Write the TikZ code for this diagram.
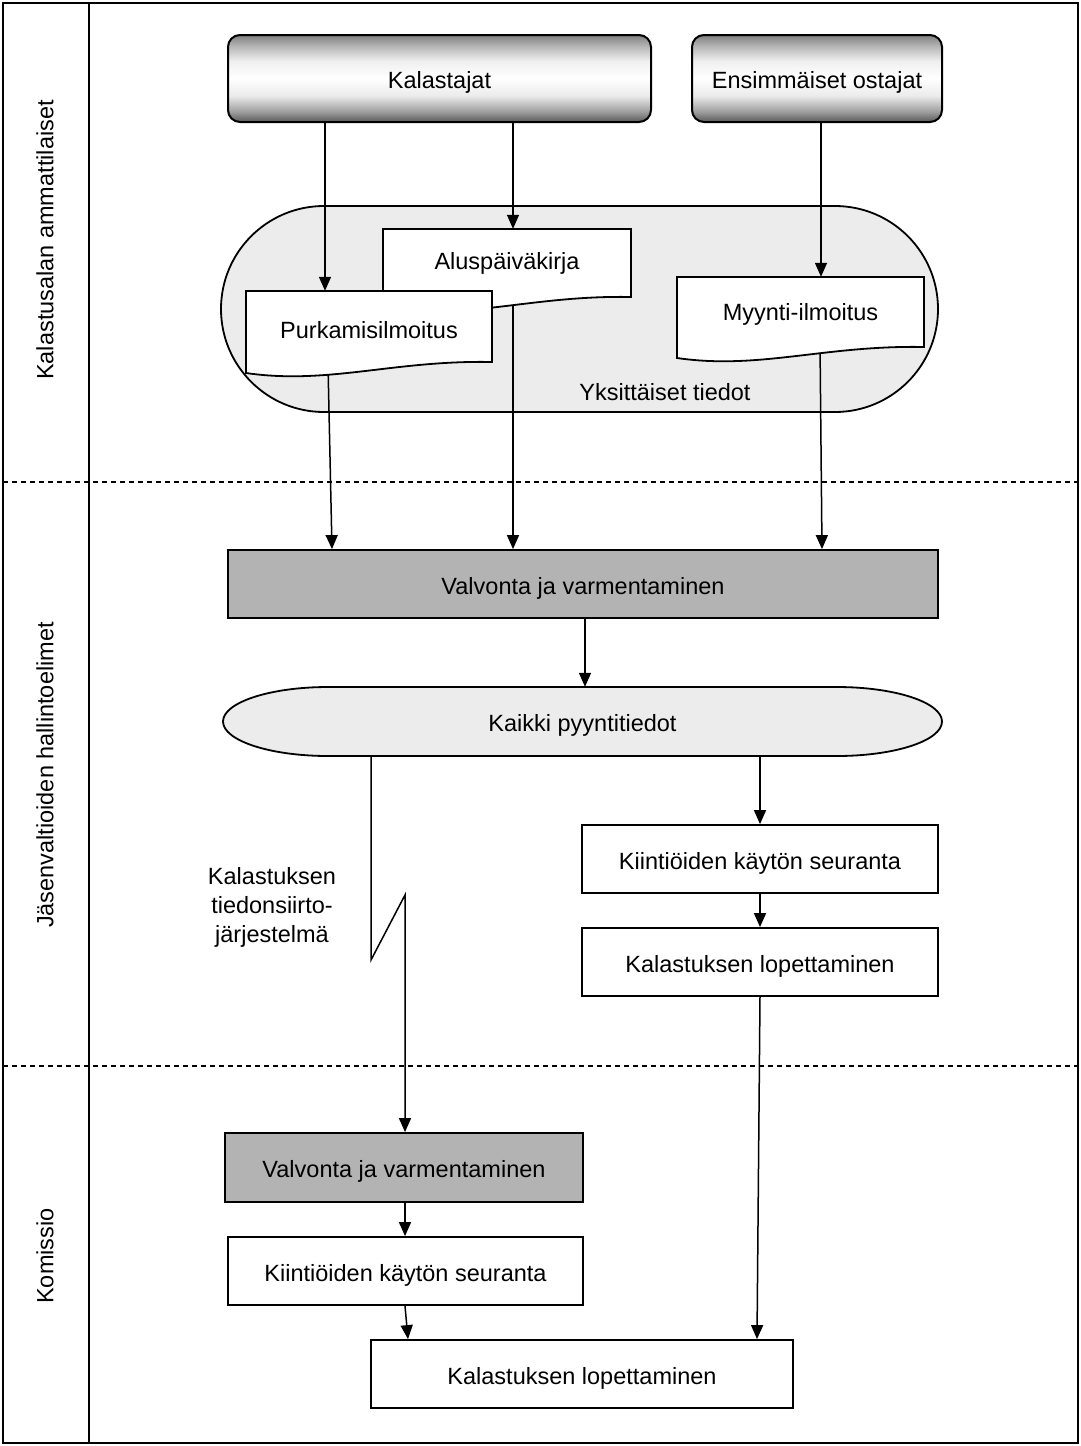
\documentclass[tikz,border=0pt]{standalone}
\usepackage{fontspec}
\setmainfont{Liberation Sans}
\usetikzlibrary{arrows.meta,calc}
\pgfdeclarelayer{bg}
\pgfdeclarelayer{mid}
\pgfsetlayers{bg,mid,main}
\pgfdeclareverticalshading{topshade}{100bp}{color(0bp)=(black!65); color(25bp)=(black!65); color(31bp)=(black!38); color(40bp)=(black!8); color(50bp)=(white); color(60bp)=(black!6); color(69bp)=(black!30); color(75bp)=(black!50); color(100bp)=(black!50)}
\definecolor{boxgray}{HTML}{B3B3B3}
\definecolor{areagray}{HTML}{ECECEC}
\newcommand\fsz{\fontsize{23.5pt}{29pt}\selectfont}
\begin{document}
\begin{tikzpicture}[x=1pt,y=-1pt,
  every node/.style={font=\fsz, inner sep=0pt},
  lbl/.style={text height=20pt, text depth=0pt},
  topbox/.style={lbl, draw, line width=2pt, rounded corners=12pt, shading=topshade},
  box/.style={lbl, draw, line width=1.8pt, minimum height=68pt},
  graybox/.style={box, fill=boxgray},
  docline/.style={draw, fill=white, line width=1.8pt},
  arr/.style={-{Triangle[length=14pt,width=12pt]}, line width=1.5pt},
  frame/.style={line width=2.5pt},
  sep/.style={line width=2pt, dash pattern=on 5pt off 4pt}]
\useasboundingbox (0,0) rectangle (1081,1446);

% helper coordinates (x positions of connectors)
\coordinate (c325) at (325,0);
\coordinate (c328) at (328,0);
\coordinate (c332) at (332,0);
\coordinate (c513) at (513,0);
\coordinate (c820) at (820,0);
\coordinate (c821) at (821,0);
\coordinate (c822) at (822,0);
\coordinate (c585) at (585,0);
\coordinate (c405) at (405,0);
\coordinate (c408) at (408,0);
\coordinate (c757) at (757,0);
\coordinate (zza) at (371,960);
\coordinate (zzb) at (405,895);

% frame
\draw[frame] (3,3) rectangle (1078,1443);
\draw[frame] (89,3) -- (89,1443);
\draw[sep] (3,482) -- (1078,482);
\draw[sep] (3,1066) -- (1078,1066);

% side labels
\node[rotate=90] (s1) at (45,240) {Kalastusalan ammattilaiset};
\node[rotate=90] (s2) at (45,775) {Jäsenvaltioiden hallintoelimet};
\node[rotate=90] (s3) at (45,1256) {Komissio};

% top actors
\node[topbox, minimum width=423pt, minimum height=87pt] (kal) at (439.5,78.5) {Kalastajat};
\node[topbox, minimum width=250pt, minimum height=87pt] (ens) at (817,78.5) {Ensimmäiset ostajat};

% documents (text nodes)
\node[lbl, minimum width=248pt, minimum height=60pt] (alus) at (507,259) {Aluspäiväkirja};
\node[lbl, minimum width=246pt, minimum height=74pt] (purk) at (369,328) {Purkamisilmoitus};
\node[lbl, minimum width=247pt, minimum height=66pt] (myy) at (800.5,310) {Myynti-ilmoitus};
\node[lbl] (yksl) at (665,390) {Yksittäiset tiedot};

% process boxes
\node[graybox, minimum width=710pt] (val1) at (583,584) {Valvonta ja varmentaminen};
\node[lbl, minimum width=719pt, minimum height=69pt] (kaikki) at (582.5,721.5) {Kaikki pyyntitiedot};
\node[box, minimum width=356pt] (kiin1) at (760,859) {Kiintiöiden käytön seuranta};
\node[box, minimum width=356pt] (lop1) at (760,962) {Kalastuksen lopettaminen};
\node[align=center] (tsj) at (272,907) {Kalastuksen\\tiedonsiirto-\\järjestelmä};
\node[graybox, minimum width=358pt, minimum height=69pt] (val2) at (404,1167.5) {Valvonta ja varmentaminen};
\node[box, minimum width=355pt] (kiin2) at (405.5,1271) {Kiintiöiden käytön seuranta};
\node[box, minimum width=422pt] (lop3) at (582,1374) {Kalastuksen lopettaminen};

\begin{pgfonlayer}{bg}
  % area of individual data
  \draw[line width=1.8pt, fill=areagray, rounded corners=103pt] (221,206) rectangle (938,412);
  % all catch data
  \draw[line width=1.8pt, fill=areagray] (328,687) -- (837,687)
     arc[start angle=-90, end angle=90, x radius=105, y radius=34.5] -- (328,756)
     arc[start angle=90, end angle=270, x radius=105, y radius=34.5] -- cycle;
  % connectors
  \draw[arr] (kal.south -| c325) -- (purk.north -| c325);
  \draw[arr] (kal.south -| c513) -- (alus.north -| c513);
  \draw[arr] (ens.south -| c821) -- (myy.north -| c821);
  \draw[arr] (purk.south -| c328) -- (val1.north -| c332);
  \draw[arr] (alus.south -| c513) -- (val1.north -| c513);
  \draw[arr] (myy.south -| c820) -- (val1.north -| c822);
  \draw[arr] (val1.south -| c585) -- (kaikki.north -| c585);
  \draw[arr] (kaikki.south -| zza) -- (zza) -- (zzb) -- (val2.north -| zzb);
  \draw[arr] (kaikki.south -| kiin1.north) -- (kiin1.north);
  \draw[arr] (kiin1.south) -- (lop1.north);
  \draw[arr] (lop1.south) -- (lop3.north -| c757);
  \draw[arr] (val2.south -| c405) -- (kiin2.north -| c405);
  \draw[arr] (kiin2.south -| c405) -- (lop3.north -| c408);
\end{pgfonlayer}

\begin{pgfonlayer}{mid}
  \path[docline] (383,229) -- (631,229) -- (631,297)
     .. controls (532,295) and (465,321) .. (383,308) -- cycle;
  \path[docline] (246,291) -- (492,291) -- (492,362)
     .. controls (394,360) and (328,385) .. (246,373) -- cycle;
  \path[docline] (677,277) -- (924,277) -- (924,347)
     .. controls (825,345) and (759,370) .. (677,358) -- cycle;
\end{pgfonlayer}
\end{tikzpicture}
\end{document}
